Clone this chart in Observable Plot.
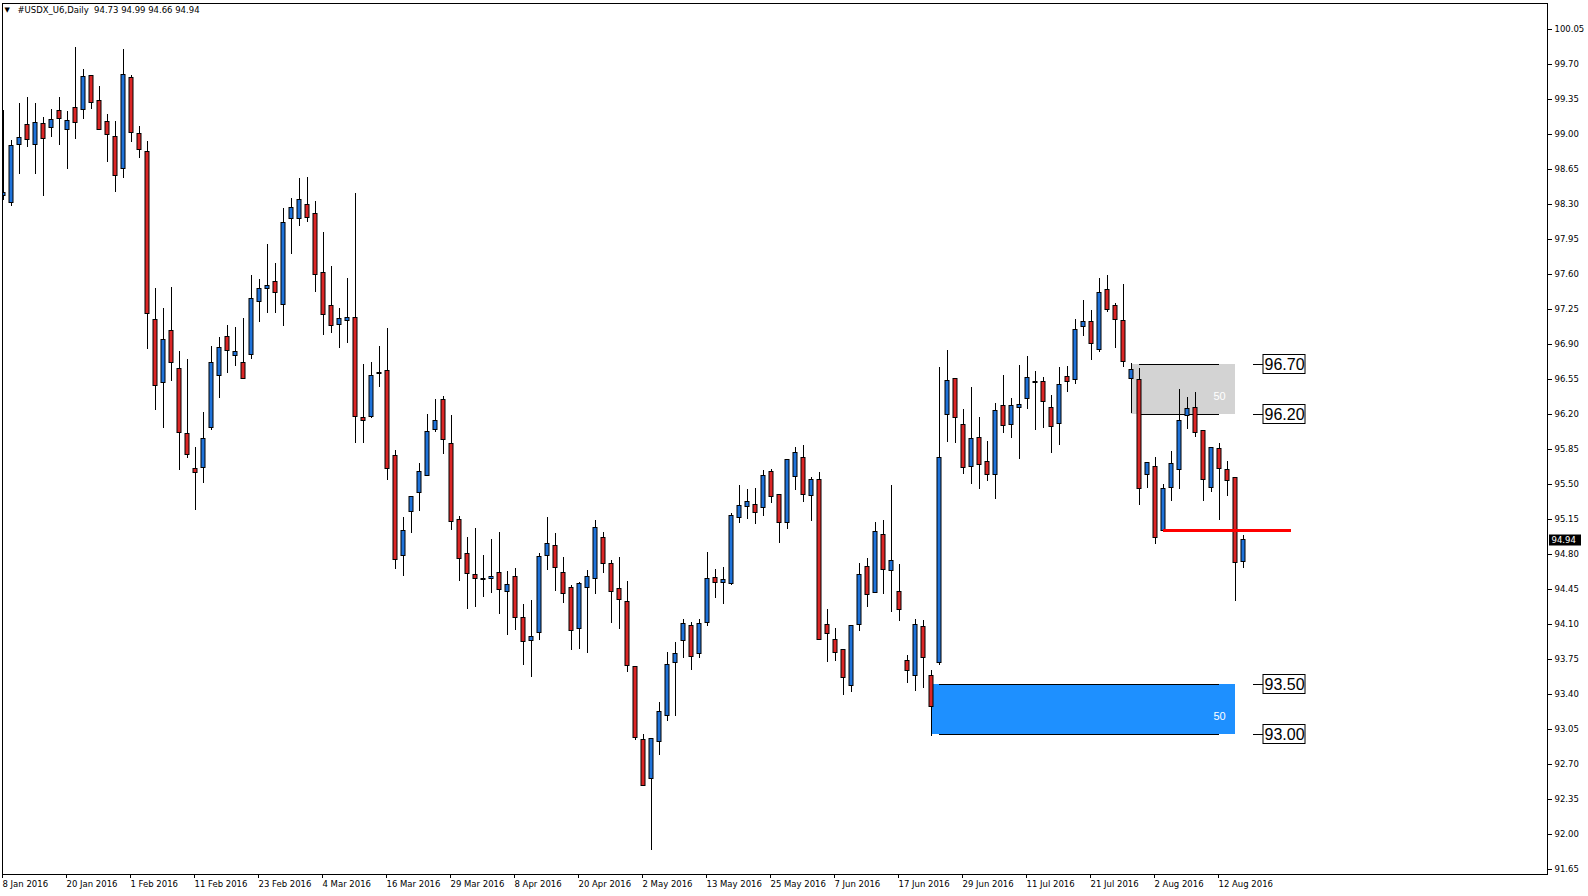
<!DOCTYPE html>
<html><head><meta charset="utf-8">
<script src="https://cdn.jsdelivr.net/npm/d3@7"></script>
<script src="https://cdn.jsdelivr.net/npm/@observablehq/plot@0.6"></script>
<style>html,body{margin:0;padding:0;background:#fff}</style>
</head><body><div id="chart"></div>
<script>
// ---- data ----
const opens = [98.39,98.32,98.90,99.09,98.90,99.10,99.07,99.23,99.05,99.26,99.25,99.58,99.33,99.12,98.97,98.66,99.56,99.00,98.82,97.14,
96.52,97.03,96.65,96.00,95.65,95.67,96.07,96.59,96.97,96.79,96.71,96.80,97.33,97.46,97.52,97.30,98.16,98.16,98.29,98.20,
97.61,97.28,97.10,97.14,97.16,96.16,96.18,96.61,96.63,95.78,94.79,95.23,95.42,95.59,96.05,96.34,95.90,95.14,94.80,94.59,
94.55,94.56,94.61,94.43,94.57,94.16,93.94,94.02,94.79,94.88,94.61,94.46,94.06,94.47,94.56,94.96,94.70,94.45,94.32,93.67,
92.94,92.56,92.93,93.19,93.72,93.94,94.08,93.81,94.12,94.56,94.52,94.51,95.17,95.28,95.29,95.27,95.62,95.39,95.12,95.58,
95.76,95.39,95.54,94.09,93.94,93.84,93.49,94.10,94.67,94.42,94.99,94.64,94.42,93.73,93.59,94.07,93.58,93.72,96.20,96.55,
96.09,95.68,95.96,95.72,95.60,96.28,96.10,96.27,96.36,96.52,96.52,96.26,96.11,96.57,96.55,97.08,97.12,96.85,97.44,97.28,
97.13,96.56,96.54,95.60,95.67,95.04,95.47,95.65,96.19,96.26,96.03,95.47,95.85,95.64,95.56,94.73];
const highs = [99.24,98.94,99.31,99.37,99.31,99.17,99.25,99.37,99.23,99.87,99.65,99.58,99.48,99.20,99.13,99.85,99.59,99.08,98.93,97.46,
97.26,97.47,96.83,96.75,95.87,96.22,96.88,96.97,97.09,97.07,97.16,97.59,97.55,97.90,97.71,98.26,98.36,98.56,98.57,98.33,
98.02,97.68,97.26,97.56,98.41,96.70,96.72,96.88,97.06,95.84,95.17,95.38,95.71,96.20,96.35,96.38,96.19,95.18,94.97,95.06,
94.79,94.95,95.02,94.63,94.66,94.30,94.34,94.81,95.17,95.01,94.77,94.49,94.52,94.64,95.14,95.02,94.74,94.77,94.53,93.68,
93.00,92.95,93.32,93.82,93.92,94.15,94.12,94.15,94.82,94.65,94.67,95.21,95.49,95.45,95.46,95.64,95.65,95.40,95.75,95.87,
95.89,95.57,95.62,94.25,94.06,93.85,94.09,94.71,94.76,95.12,95.14,95.49,94.70,93.79,94.15,94.14,93.64,96.67,96.84,96.55,
96.25,96.47,96.17,95.93,96.31,96.59,96.36,96.69,96.78,96.63,96.57,96.39,96.67,96.68,97.15,97.34,97.24,97.56,97.59,97.31,
97.50,96.71,96.66,95.72,95.77,95.50,95.83,96.45,96.37,96.42,96.03,95.87,95.91,95.73,95.57,94.99];
const lows = [98.34,98.28,98.60,98.87,98.60,98.38,98.97,98.89,98.65,98.95,99.15,99.25,99.04,98.72,98.42,98.56,98.92,98.76,96.85,96.24,
96.06,96.53,95.64,95.76,95.24,95.51,96.04,96.36,96.61,96.68,96.55,96.75,97.12,97.21,97.21,97.08,97.80,98.08,98.12,97.42,
96.99,97.01,96.86,96.91,95.91,95.91,96.16,96.47,95.54,94.65,94.58,95.01,95.23,95.58,96.02,95.80,95.04,94.53,94.25,94.27,
94.37,94.41,94.20,93.99,94.04,93.69,93.57,93.94,94.64,94.43,94.31,93.84,93.85,93.81,94.40,94.61,94.11,94.05,93.62,92.94,
92.48,91.84,92.79,93.13,93.18,93.76,93.64,93.76,94.08,94.36,94.30,94.49,95.11,95.15,95.10,95.18,95.31,94.91,95.05,95.44,
95.32,95.13,93.94,93.72,93.73,93.39,93.42,94.03,94.27,94.41,94.40,94.22,94.13,93.51,93.43,93.46,92.98,93.69,95.92,95.91,
95.60,95.50,95.45,95.53,95.35,96.01,95.96,95.75,96.25,96.04,96.06,95.81,95.89,96.42,96.50,96.98,96.74,96.82,97.22,96.86,
96.67,96.21,95.29,95.46,94.90,95.04,95.33,95.45,96.05,95.97,95.33,95.42,95.14,95.38,94.33,94.66];
const closes = [98.41,98.88,98.96,98.95,99.11,98.96,99.14,99.16,99.13,99.12,99.57,99.32,99.05,99.00,98.59,99.59,99.02,98.85,97.21,96.49,
96.94,96.72,96.02,95.80,95.62,95.95,96.71,96.86,96.84,96.82,96.56,97.35,97.45,97.48,97.42,98.11,98.26,98.34,98.17,97.60,
97.20,97.09,97.15,97.16,96.18,96.14,96.58,96.61,95.66,94.75,95.03,95.37,95.62,96.02,96.13,95.95,95.13,94.76,94.61,94.56,
94.55,94.57,94.45,94.49,94.17,93.93,93.97,94.77,94.90,94.67,94.41,94.04,94.50,94.57,95.06,94.71,94.43,94.35,93.69,92.97,
92.49,92.95,93.22,93.69,93.80,94.10,93.78,94.10,94.55,94.52,94.54,95.18,95.28,95.32,95.22,95.58,95.38,95.12,95.74,95.81,
95.40,95.54,93.95,94.01,93.82,93.57,94.08,94.59,94.40,95.02,94.65,94.73,94.25,93.64,94.09,93.77,93.28,95.76,96.53,96.17,
95.67,95.95,95.70,95.60,96.23,96.09,96.28,96.29,96.56,96.52,96.33,96.08,96.49,96.53,97.04,97.12,96.91,97.41,97.25,97.15,
96.73,96.64,95.46,95.71,94.97,95.45,95.70,96.13,96.25,96.02,95.55,95.86,95.66,95.54,94.72,94.94];

const dateLabels = ["8 Jan 2016","20 Jan 2016","1 Feb 2016","11 Feb 2016","23 Feb 2016","4 Mar 2016","16 Mar 2016",
  "29 Mar 2016","8 Apr 2016","20 Apr 2016","2 May 2016","13 May 2016","25 May 2016","7 Jun 2016","17 Jun 2016",
  "29 Jun 2016","11 Jul 2016","21 Jul 2016","2 Aug 2016","12 Aug 2016"];
const dateTickIdx = [0,8,16,24,32,40,48,56,64,72,80,88,96,104,112,120,128,136,144,152];
const yTicks = [91.65,92.00,92.35,92.70,93.05,93.40,93.75,94.10,94.45,94.80,95.15,95.50,95.85,96.20,96.55,96.90,
  97.25,97.60,97.95,98.30,98.65,99.00,99.35,99.70,100.05];

const symbolName = "#USDX_U6,Daily";
const zoneLow = [96.20, 93.00];
const zoneHigh = [96.70, 93.50];
const zoneStart = [141, 116];
const zoneEnd = [154, 154];
const zoneLineStart = [142, 117];
const zoneLineEnd = [152, 152];
const zoneText = ["50", "50"];
const levelLabels = [96.70, 96.20, 93.50, 93.00];
const redLevel = 95.04, redStart = 145, redEnd = 161;

// ---- derived tables ----
const bars = opens.map((o, i) => ({i, open: o, high: highs[i], low: lows[i], close: closes[i]}));
const zones = zoneLow.map((lo, k) => ({k, lo, hi: zoneHigh[k], s: zoneStart[k], e: zoneEnd[k],
  ls: zoneLineStart[k], le: zoneLineEnd[k], t: zoneText[k]}));
const zoneEdges = zones.flatMap(z => [{y: z.lo, s: z.ls, e: z.le}, {y: z.hi, s: z.ls, e: z.le}]);
const last = bars[bars.length - 1];
const header = `${symbolName}  ${last.open.toFixed(2)} ${last.high.toFixed(2)} ${last.low.toFixed(2)} ${last.close.toFixed(2)}`;

const BULL = "#1f73da", BEAR = "#dc2626";
const leadA = 156.25, boxA = 157.5, boxB = 162.75;
const curA = 193.25, curB = 197.25;

const chart = Plot.plot({
  width: 1588, height: 896,
  marginLeft: 2, marginRight: 41, marginTop: 3, marginBottom: 22,
  x: {domain: [-0.125, 193], axis: null},
  y: {domain: [91.60, 100.31], axis: null},
  style: {fontFamily: "'DejaVu Sans', sans-serif", fontSize: "8.5px", color: "black", background: "white"},
  marks: [
    Plot.rect(zones, {x1: "s", x2: "e", y1: "lo", y2: "hi", fill: d => d.k === 0 ? "#d3d3d3" : "#1e90ff"}),
    Plot.ruleY(zoneEdges, {y: "y", x1: "s", x2: "e", stroke: "black", strokeWidth: 1}),
    Plot.text(zones, {x: d => d.le, y: d => (d.lo + d.hi) / 2, dy: 7, text: "t", fill: "white",
      fontFamily: "'Liberation Sans', Arial, sans-serif", fontSize: 11}),
    Plot.ruleX(bars, {x: "i", y1: "low", y2: "high", stroke: "black", strokeWidth: 1, clip: true}),
    Plot.rect(bars, {x1: d => d.i - 0.25, x2: d => d.i + 0.25, y1: "open", y2: "close",
      fill: d => d.close >= d.open ? BULL : BEAR, stroke: "black", strokeWidth: 1,
      insetTop: -0.5, insetBottom: -0.5, clip: true}),
    Plot.ruleY([redLevel], {x1: () => redStart, x2: () => redEnd, stroke: "#ff0000", strokeWidth: 3}),
    Plot.ruleY(levelLabels, {y: d => d, x1: () => leadA, x2: () => boxA, stroke: "black"}),
    Plot.rect(levelLabels, {x1: () => boxA, x2: () => boxB, y1: d => d - 0.095, y2: d => d + 0.095,
      fill: "white", stroke: "black", strokeWidth: 1}),
    Plot.text(levelLabels, {x: () => (boxA + boxB) / 2, y: d => d, text: d => d.toFixed(2),
      fontFamily: "'Liberation Sans', Arial, sans-serif", fontSize: 16, fill: "black"}),
    Plot.frame({stroke: "black"}),
    Plot.axisY(yTicks, {anchor: "right", tickSize: 4, tickPadding: 3, tickFormat: d => d.toFixed(2)}),
    Plot.axisX(dateTickIdx, {anchor: "bottom", tickSize: 4, tickPadding: 2, textAnchor: "start", dx: -1,
      tickFormat: d => dateLabels[dateTickIdx.indexOf(d)]}),
    Plot.rect([last.close], {x1: () => curA, x2: () => curB, y1: d => d - 0.055, y2: d => d + 0.055, fill: "black"}),
    Plot.text([last.close], {x: () => curA, dx: 2, y: d => d, text: d => d.toFixed(2), fill: "white", textAnchor: "start"}),
    Plot.text(["▼"], {frameAnchor: "top-left", dx: 2, dy: 4, fontSize: 7, textAnchor: "start"}),
    Plot.text([header], {frameAnchor: "top-left", dx: 15, dy: 3, textAnchor: "start"})
  ]
});
document.getElementById("chart").appendChild(chart);
</script>
</body></html>
